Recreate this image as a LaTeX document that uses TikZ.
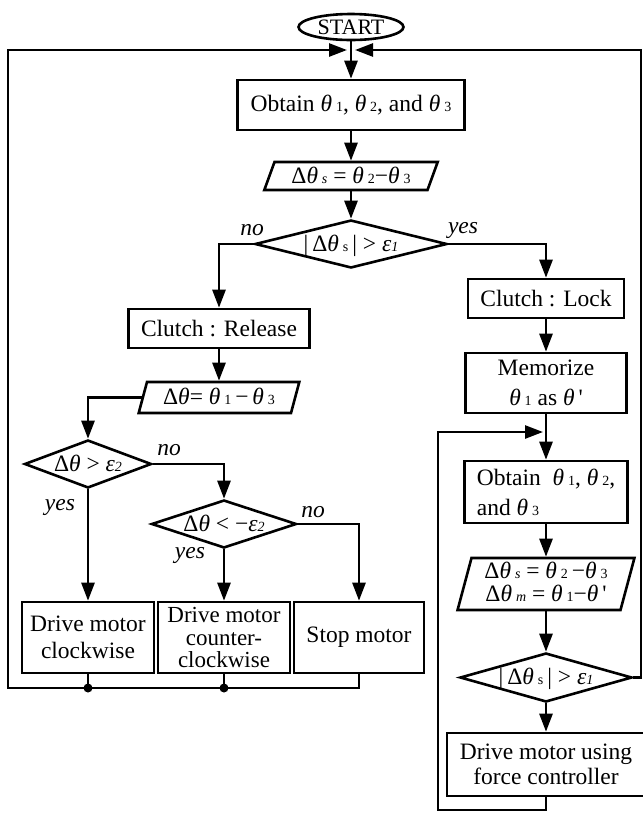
\documentclass[tikz,border=0pt]{standalone}
\usepackage{fontspec}
\setmainfont{Liberation Serif}
\usetikzlibrary{arrows.meta,shapes.geometric}
\newcommand{\ix}[1]{\,{\fontsize{14}{14}\selectfont #1}}
\newcommand{\tht}{\textit{θ}}
\newcommand{\eps}[1]{\textit{ε}{\fontsize{14}{14}\selectfont\itshape #1}}
\newcommand{\zbox}[1]{\smash{\makebox[0pt]{\raisebox{-7pt}{#1}}}}
\tikzset{
  ln/.style={line width=2.6pt},
  arr/.style={ln,-{Triangle[length=18pt,width=13pt]}},
  box/.style={draw,ln,rectangle,inner sep=0pt,align=center},
  para/.style 2 args={draw,ln,trapezium,trapezium left angle=#1,trapezium right angle=180-#1,
    inner ysep=#2},
  dec/.style={draw,ln,diamond,inner sep=0pt},
  term/.style={draw,ln,ellipse,inner sep=0pt},
  lab/.style={font=\fontsize{23.5}{27}\selectfont\itshape},
  dot/.style={circle,fill,inner sep=0pt,minimum size=9pt}
}

\begin{document}
\begin{tikzpicture}[x=1pt,y=-1pt,font=\fontsize{23.5}{27}\selectfont]
\useasboundingbox (0,0) rectangle (643,815);
% main column
\node[term,minimum width=105pt,minimum height=26pt,font=\fontsize{22}{26}\selectfont] (start) at (351,27) {\zbox{START}};
\node[box,minimum width=227pt,minimum height=50pt] (obt1) at (351,105) {Obtain \tht\ix{1}, \tht\ix{2}, and \tht\ix{3}};
\node[para={70}{14pt},inner xsep=76.5pt] (ds1) at (351,176) {\zbox{Δ\tht\ix{\textit{s}} = \tht\ix{2}−\tht\ix{3}}};
\node[dec,minimum width=192pt,minimum height=48pt] (dia1) at (351,244) {\zbox{|\,Δ\tht\ix{s}\,| > \eps{1}}};
% left branch
\node[box,minimum width=181pt,minimum height=39pt] (rel) at (219,328.5) {Clutch : Release};
\node[para={75}{15.5pt},inner xsep=72pt] (dt) at (219,397.5) {\zbox{Δ\tht= \tht\ix{1}\,−\,\tht\ix{3}}};
\node[dec,minimum width=127pt,minimum height=48pt] (dia2) at (88,464) {\zbox{Δ\tht\ > \eps{2}}};
\node[dec,minimum width=145pt,minimum height=48pt] (dia3) at (224,524) {\zbox{Δ\tht\ < −\eps{2}}};
\node[box,minimum width=132pt,minimum height=71pt] (cw) at (88,637.5) {Drive motor\\clockwise};
\node[box,minimum width=132pt,minimum height=71pt,font=\fontsize{23}{22.5}\selectfont] (ccw) at (224,637.5) {Drive motor\\counter-\\clockwise};
\node[box,minimum width=130pt,minimum height=71pt] (stop) at (359,637.5) {Stop motor};
% right branch
\node[box,minimum width=156pt,minimum height=39pt] (lock) at (546,298.5) {Clutch : Lock};
\node[box,minimum width=161pt,minimum height=60pt,font=\fontsize{23.5}{30}\selectfont] (mem) at (546,383) {Memorize\\\tht\ix{1} as \tht\,\textquotesingle};
\node[box,minimum width=163pt,minimum height=62pt,align=left,font=\fontsize{23.5}{30}\selectfont] (obt2) at (546,492) {Obtain\ \ \tht\ix{1}, \tht\ix{2},\\and \tht\ix{3}};
\node[para={75}{26pt},inner xsep=74.5pt] (ds2) at (546,584) {\zbox{\fontsize{23.5}{22}\selectfont\begin{tabular}{@{}c@{}}Δ\tht\ix{\textit{s}} = \tht\ix{2}\,−\tht\ix{3}\\Δ\tht\ix{\textit{m}} = \tht\ix{1}−\tht\,\textquotesingle\end{tabular}}};
\node[dec,minimum width=172pt,minimum height=49pt] (dia4) at (546,677.5) {\zbox{|\,Δ\tht\ix{s}\,| > \eps{1}}};
\node[box,minimum width=198pt,minimum height=63pt,font=\fontsize{23.5}{25}\selectfont] (force) at (546,764.5) {Drive motor using\\force controller};
% labels
\node[lab] (no1) at (252,230) {no};
\node[lab] (yes1) at (463,230) {yes};
\node[lab] (no2) at (169,450) {no};
\node[lab] (yes2) at (60,507) {yes};
\node[lab] (no3) at (313,512) {no};
\node[lab] (yes3) at (190,555) {yes};
% corners of the loops
\coordinate (jn) at (351,50);
\coordinate (bl) at (8,688);
\coordinate (tr) at (641,50);
\coordinate (lj) at (546,432);
\coordinate (lb) at (438,810);
% arrows
\draw[arr] (start) -- (obt1);
\draw[arr] (obt1) -- (ds1);
\draw[arr] (ds1) -- (dia1);
\draw[arr] (dia1.west) -| (rel.north);
\draw[arr] (dia1.east) -| (lock.north);
\draw[arr] (rel) -- (dt);
\draw[arr] (dt.west) -| (dia2.north);
\draw[arr] (dia2.east) -| (dia3.north);
\draw[arr] (dia3.east) -| (stop.north);
\draw[arr] (dia2) -- (cw);
\draw[arr] (dia3) -- (ccw);
\draw[arr] (lock) -- (mem);
\draw[arr] (mem) -- (obt2);
\draw[arr] (obt2) -- (ds2);
\draw[arr] (ds2) -- (dia4);
\draw[arr] (dia4) -- (force);
% loops back
\draw[arr] (stop.south) |- (bl) |- ([xshift=-4pt]jn);
\draw[ln] (cw.south) -- (cw.south |- bl) node[dot] (k1) {};
\draw[ln] (ccw.south) -- (ccw.south |- bl) node[dot] (k2) {};
\draw[arr] (dia4.east) -| (tr) -- ([xshift=4pt]jn);
\draw[arr] (force.south) |- (lb) |- ([xshift=-3pt]lj);
\end{tikzpicture}
\end{document}
